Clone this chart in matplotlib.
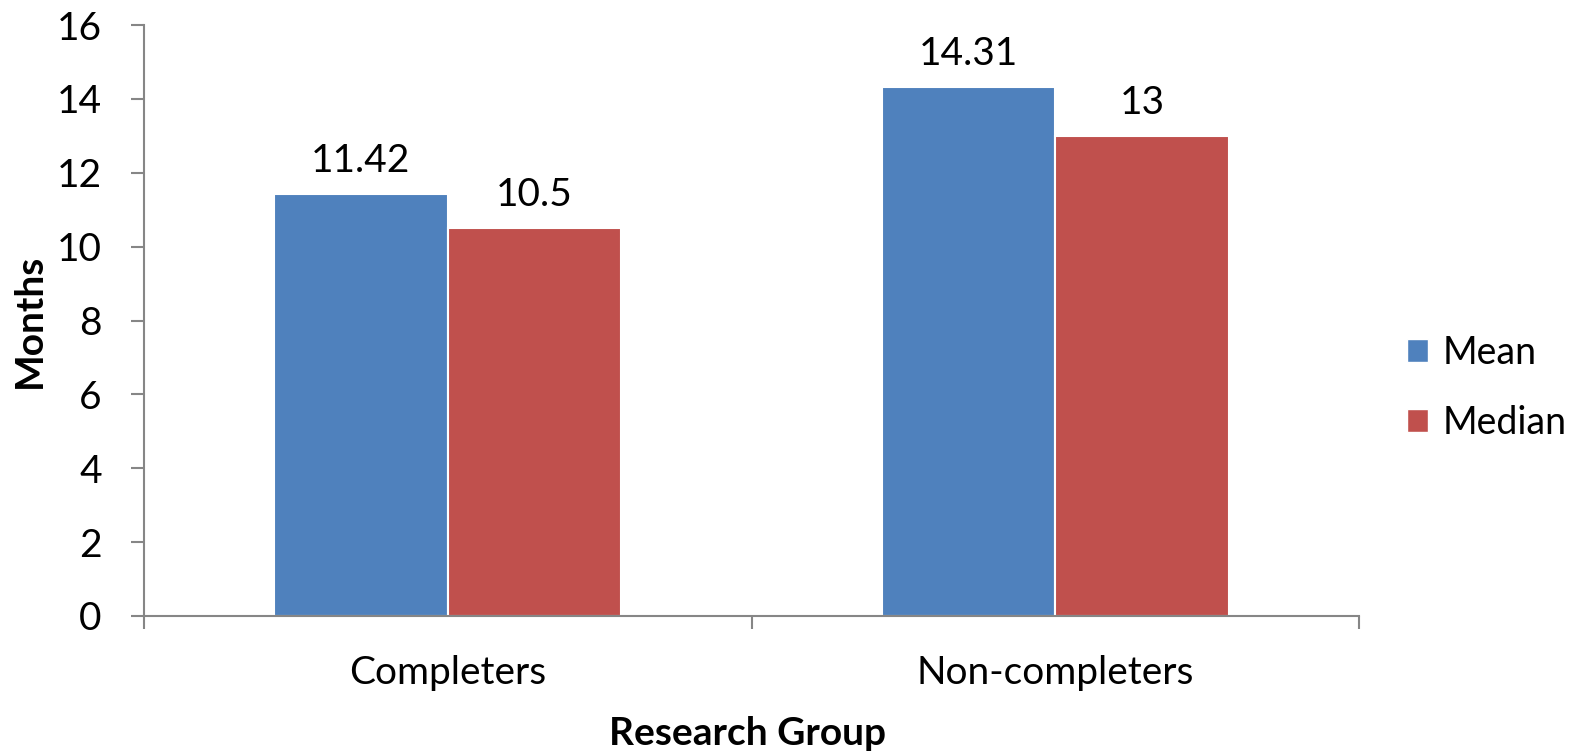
import matplotlib
matplotlib.use("Agg")
import matplotlib.pyplot as plt
from matplotlib.patches import Patch
import numpy as np

plt.rcParams['font.family'] = ['Lato', 'DejaVu Sans']

categories = ["Completers", "Non-completers"]
series_names = ["Mean", "Median"]
mean_vals = [11.42, 14.31]
median_vals = [10.5, 13]
mean_labels = ["11.42", "14.31"]
median_labels = ["10.5", "13"]
y_ticks = [0, 2, 4, 6, 8, 10, 12, 14, 16]

BLUE = "#4F81BD"
RED = "#C0504D"
AXIS_GRAY = "#868686"

W, H = 1588, 752
fig = plt.figure(figsize=(W / 100, H / 100), dpi=100)
ax = fig.add_axes([144 / W, (H - 616) / H, (1359 - 144) / W, (616 - 25) / H])

x = np.arange(len(categories))
bw = 1 / 3.5  # Excel gap width 150%
bars_mean = ax.bar(x - bw / 2, mean_vals, bw, color=BLUE, edgecolor="white", linewidth=1.5, label=series_names[0])
bars_med = ax.bar(x + bw / 2, median_vals, bw, color=RED, edgecolor="white", linewidth=1.5, label=series_names[1])

ax.bar_label(bars_mean, labels=mean_labels, padding=11, fontsize=28)
ax.bar_label(bars_med, labels=median_labels, padding=11, fontsize=28)

ax.set_xlim(-0.5, len(categories) - 0.5)
ax.set_ylim(0, 16)
ax.set_yticks(y_ticks)
ax.set_yticklabels([str(v) for v in y_ticks], fontsize=28)

# category boundaries carry the tick marks, labels sit at the centres
ax.set_xticks(np.arange(-0.5, len(categories), 1.0))
ax.set_xticklabels([])
ax.set_xticks(x, minor=True)
ax.set_xticklabels(categories, minor=True, fontsize=28)
ax.tick_params(axis="x", which="minor", length=0, pad=28)
ax.tick_params(axis="x", which="major", length=9.5, width=1.5, color=AXIS_GRAY)
ax.tick_params(axis="y", length=9.5, width=1.5, color=AXIS_GRAY, pad=21)

for side in ("top", "right"):
    ax.spines[side].set_visible(False)
for side in ("left", "bottom"):
    ax.spines[side].set_color(AXIS_GRAY)
    ax.spines[side].set_linewidth(1.5)

ax.set_ylabel("Months", fontsize=28, fontweight="bold")
ax.yaxis.set_label_coords(-0.0947, 0.5)
ax.yaxis.label.set_verticalalignment("center")
ax.set_xlabel("Research Group", fontsize=28, fontweight="bold")
ax.xaxis.set_label_coords(0.497, -0.198)
ax.xaxis.label.set_verticalalignment("center")

handles = [Patch(facecolor=BLUE, edgecolor="white"), Patch(facecolor=RED, edgecolor="white")]
fig.legend(handles, series_names, loc="center left", bbox_to_anchor=(1407 / W, 1 - 388 / H),
           frameon=False, fontsize=27, handlelength=0.56, handleheight=0.56,
           handletextpad=0.4, labelspacing=0.9, borderpad=0, borderaxespad=0)

fig.savefig("out.png", dpi=100, facecolor="white")
